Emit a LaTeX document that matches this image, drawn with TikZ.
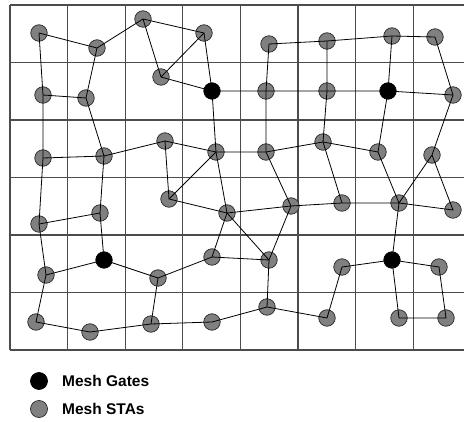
\documentclass[tikz,border=0pt]{standalone}
\usepackage{fontspec}
\setmainfont{Liberation Sans}
\usepackage{tikz}
\usetikzlibrary{positioning}

\begin{document}
\begin{tikzpicture}[
    x=1pt, y=-1pt,
    sta/.style={circle, draw=black!85, fill=black!50, line width=0.7pt,
                minimum size=16.5pt, inner sep=0pt},
    gate/.style={sta, draw=black, fill=black},
    grid line/.style={draw=black!70, line width=1.1pt},
    link/.style={draw=black, line width=0.8pt},
    legend/.style={font=\bfseries\fontsize{15.5}{18}\selectfont,
                   anchor=west, inner sep=0pt},
]
    \useasboundingbox (0,0) rectangle (464,422);

    % Grid
    \foreach \y in {5,62.5,120,177.5,235,292.5,350}
        \draw[grid line] (10,\y) -- (464,\y);
    \foreach \x in {10,67.6,125.2,182.8,240.4,298,355.6,413.2}
        \draw[grid line] (\x,5) -- (\x,350);

    % Mesh STAs
    \node[sta] (a1) at (39,33) {};  \node[sta] (a2) at (97,48) {};
    \node[sta] (a3) at (143,19) {}; \node[sta] (a4) at (204,33) {};
    \node[sta] (a5) at (269,44) {}; \node[sta] (a6) at (327,41) {};
    \node[sta] (a7) at (392,36) {}; \node[sta] (a8) at (435,37) {};

    \node[sta] (b1) at (43,95) {};  \node[sta] (b2) at (86,98) {};
    \node[sta] (b3) at (161,77) {}; \node[sta] (b4) at (266,91) {};
    \node[sta] (b5) at (327,91) {}; \node[sta] (b6) at (453,95) {};

    \node[sta] (c1) at (43,158) {};  \node[sta] (c2) at (104,156) {};
    \node[sta] (c3) at (165,141) {}; \node[sta] (c4) at (216,152) {};
    \node[sta] (c5) at (266,152) {}; \node[sta] (c6) at (323,142) {};
    \node[sta] (c7) at (378,152) {}; \node[sta] (c8) at (432,155) {};

    \node[sta] (d1) at (39,224) {};  \node[sta] (d2) at (100,213) {};
    \node[sta] (d3) at (169,199) {}; \node[sta] (d4) at (227,213) {};
    \node[sta] (d5) at (291,206) {}; \node[sta] (d6) at (342,203) {};
    \node[sta] (d7) at (399,203) {}; \node[sta] (d8) at (453,210) {};

    \node[sta] (e1) at (46,275) {};  \node[sta] (e2) at (158,278) {};
    \node[sta] (e3) at (212,257) {}; \node[sta] (e4) at (269,260) {};
    \node[sta] (e5) at (342,267) {}; \node[sta] (e6) at (439,267) {};

    \node[sta] (f1) at (36,322) {};  \node[sta] (f2) at (90,332) {};
    \node[sta] (f3) at (151,324) {}; \node[sta] (f4) at (212,322) {};
    \node[sta] (f5) at (267,307) {}; \node[sta] (f6) at (327,318) {};
    \node[sta] (f7) at (399,318) {}; \node[sta] (f8) at (446,318) {};

    % Mesh gates
    \node[gate] (g1) at (212,91) {};
    \node[gate] (g2) at (388,91) {};
    \node[gate] (g3) at (104,260) {};
    \node[gate] (g4) at (392,260) {};

    % Links
    \draw[link] (a1.center) -- (a2.center) -- (a3.center) -- (a4.center)
        -- (g1.center) -- (b3.center) -- (a3.center);
    \draw[link] (b3.center) -- (a4.center);
    \draw[link] (a5.center) -- (a6.center) -- (a7.center) -- (a8.center)
        -- (b6.center) -- (c8.center) -- (d8.center) -- (d7.center) -- (c8.center);
    \draw[link] (a1.center) -- (b1.center) -- (c1.center) -- (d1.center)
        -- (e1.center) -- (f1.center) -- (f2.center) -- (f3.center)
        -- (f4.center) -- (f5.center) -- (f6.center) -- (e5.center)
        -- (g4.center) -- (e6.center) -- (f8.center) -- (f7.center)
        -- (g4.center) -- (d7.center) -- (d6.center) -- (d5.center)
        -- (d4.center) -- (d3.center) -- (c3.center) -- (c2.center)
        -- (b2.center) -- (a2.center);
    \draw[link] (b1.center) -- (b2.center);
    \draw[link] (c1.center) -- (c2.center) -- (d2.center) -- (d1.center);
    \draw[link] (d2.center) -- (g3.center) -- (e1.center);
    \draw[link] (g3.center) -- (e2.center) -- (e3.center) -- (d4.center)
        -- (c4.center) -- (g1.center) -- (b4.center) -- (b5.center)
        -- (g2.center) -- (b6.center);
    \draw[link] (e2.center) -- (f3.center);
    \draw[link] (c3.center) -- (c4.center) -- (c5.center) -- (c6.center)
        -- (c7.center) -- (d7.center);
    \draw[link] (c4.center) -- (d3.center);
    \draw[link] (a5.center) -- (b4.center) -- (c5.center) -- (d5.center)
        -- (e4.center) -- (f5.center);
    \draw[link] (a6.center) -- (b5.center) -- (c6.center) -- (d6.center);
    \draw[link] (a7.center) -- (g2.center) -- (c7.center);
    \draw[link] (d4.center) -- (e4.center) -- (e3.center);

    % Legend
    \node[gate, minimum size=17pt] (keygate) at (39,381) {};
    \node[sta, minimum size=17pt] (keysta) at (39,409) {};
    \node[legend] (keygatetext) at (62,381) {Mesh Gates};
    \node[legend] (keystatext) at (62,409) {Mesh STAs};
\end{tikzpicture}
\end{document}
